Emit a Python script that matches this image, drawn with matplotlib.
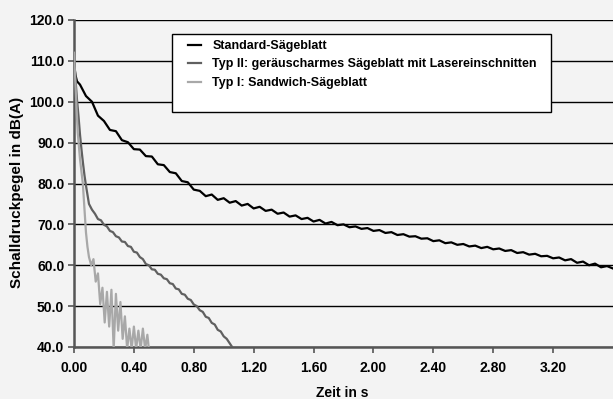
import numpy as np
import matplotlib
matplotlib.use("Agg")
import matplotlib.pyplot as plt
from matplotlib.patches import Rectangle

plt.rcParams["font.family"] = ["Liberation Sans", "DejaVu Sans"]
plt.rcParams["font.weight"] = "bold"

# Standard-Saegeblatt (black)
t_std = [0.0, 0.01, 0.02, 0.04, 0.08, 0.12, 0.16, 0.20, 0.24, 0.28, 0.32, 0.36,
         0.40, 0.44, 0.48, 0.52, 0.56, 0.60, 0.64, 0.68, 0.72, 0.76, 0.80, 0.84,
         0.88, 0.92, 0.96, 1.00, 1.04, 1.08, 1.12, 1.16, 1.20, 1.24, 1.28, 1.32,
         1.36, 1.40, 1.44, 1.48, 1.52, 1.56, 1.60, 1.64, 1.68, 1.72, 1.76, 1.80,
         1.84, 1.88, 1.92, 1.96, 2.00, 2.04, 2.08, 2.12, 2.16, 2.20, 2.24, 2.28,
         2.32, 2.36, 2.40, 2.44, 2.48, 2.52, 2.56, 2.60, 2.64, 2.68, 2.72, 2.76,
         2.80, 2.84, 2.88, 2.92, 2.96, 3.00, 3.04, 3.08, 3.12, 3.16, 3.20, 3.24,
         3.28, 3.32, 3.36, 3.40, 3.44, 3.48, 3.52, 3.56, 3.60]
db_std = [109.5, 106.5, 105.0, 104.2, 101.4, 100.0, 96.6, 95.3, 93.1, 92.8, 90.6, 90.1,
          88.4, 88.3, 86.7, 86.6, 84.7, 84.5, 82.8, 82.5, 80.6, 80.3, 78.5, 78.2,
          76.9, 77.3, 76.0, 76.4, 75.3, 75.7, 74.6, 75.0, 73.9, 74.3, 73.3, 73.6,
          72.6, 72.9, 71.9, 72.2, 71.3, 71.6, 70.7, 71.1, 70.2, 70.6, 69.8, 70.0,
          69.3, 69.5, 68.9, 69.1, 68.4, 68.6, 67.9, 68.1, 67.4, 67.6, 67.0, 67.1,
          66.5, 66.6, 65.9, 66.1, 65.4, 65.6, 65.0, 65.2, 64.6, 64.8, 64.2, 64.5,
          63.9, 64.1, 63.5, 63.7, 63.0, 63.2, 62.6, 62.8, 62.2, 62.3, 61.7, 61.9,
          61.2, 61.5, 60.6, 60.9, 60.0, 60.4, 59.5, 59.8, 59.2]

# Typ II: geraeuscharmes Saegeblatt mit Lasereinschnitten (dark grey)
t_typ2 = [0.0, 0.01, 0.02, 0.03, 0.04, 0.05, 0.06, 0.07, 0.08, 0.10, 0.12, 0.14,
          0.16, 0.18, 0.20, 0.22, 0.24, 0.26, 0.28, 0.30, 0.32, 0.34, 0.36, 0.38,
          0.40, 0.42, 0.44, 0.46, 0.48, 0.50, 0.52, 0.54, 0.56, 0.58, 0.60, 0.62,
          0.64, 0.66, 0.68, 0.70, 0.72, 0.74, 0.76, 0.78, 0.80, 0.82, 0.84, 0.86,
          0.88, 0.90, 0.92, 0.94, 0.96, 0.98, 1.00, 1.02, 1.04, 1.06]
db_typ2 = [110.5, 105.5, 100.5, 96.5, 92.0, 88.3, 85.0, 82.0, 79.5, 75.0, 73.6, 72.6,
           71.3, 71.0, 69.9, 69.5, 68.4, 68.1, 67.1, 66.8, 65.8, 65.7, 64.7, 64.5,
           63.3, 63.1, 62.0, 61.5, 60.3, 60.0, 59.0, 58.9, 57.9, 57.7, 56.8, 56.6,
           55.6, 55.4, 54.3, 54.1, 53.0, 52.8, 51.8, 51.5, 50.4, 50.0, 49.0, 48.6,
           47.4, 47.1, 45.9, 45.5, 44.2, 43.8, 42.6, 42.0, 40.9, 39.8]

# Typ I: Sandwich-Saegeblatt (light grey)
t_typ1 = [0.0, 0.01, 0.025, 0.04, 0.059, 0.07, 0.08, 0.09, 0.10, 0.115, 0.13, 0.145,
          0.16, 0.175, 0.19, 0.205, 0.22, 0.235, 0.25, 0.265, 0.28, 0.295, 0.31, 0.325,
          0.34, 0.355, 0.37, 0.385, 0.40, 0.415, 0.43, 0.445, 0.46, 0.475, 0.49, 0.50]
db_typ1 = [112.0, 104.0, 92.4, 86.0, 80.0, 73.7, 68.0, 64.5, 62.0, 60.0, 61.5, 56.0,
           58.0, 50.5, 54.5, 46.0, 53.5, 45.0, 54.0, 39.5, 53.0, 44.0, 51.0, 42.0,
           47.5, 39.5, 44.5, 39.5, 45.0, 39.5, 44.0, 39.5, 44.5, 39.5, 43.0, 39.5]

labels = ["Standard-Sägeblatt",
          "Typ II: geräuscharmes Sägeblatt mit Lasereinschnitten",
          "Typ I: Sandwich-Sägeblatt"]
colors = ["#000000", "#606060", "#a8a8a8"]

x_ticks = [0.0, 0.4, 0.8, 1.2, 1.6, 2.0, 2.4, 2.8, 3.2]
y_ticks = [40, 50, 60, 70, 80, 90, 100, 110, 120]

W, H = 613, 399
fig = plt.figure(figsize=(W / 100, H / 100), dpi=100, facecolor="#f3f3f3")
ax = fig.add_axes([74 / W, 1 - 347 / H, (W - 74) / W, (347 - 20) / H])
ax.set_facecolor("none")

for t, v, c, lab in zip([t_std, t_typ2, t_typ1], [db_std, db_typ2, db_typ1], colors, labels):
    ax.plot(t, v, color=c, lw=1.6, label=lab, zorder=3)

ax.set_xlim(0, 3.6)
ax.set_ylim(40, 120)
ax.set_xticks(x_ticks)
ax.set_xticklabels([f"{x:.2f}" for x in x_ticks], fontsize=10, fontweight="bold")
ax.set_yticks(y_ticks)
ax.set_yticklabels([f"{y:.1f}" for y in y_ticks], fontsize=10, fontweight="bold")
ax.grid(axis="y", color="black", lw=1.0, zorder=1)
ax.set_axisbelow(True)

for s in ["top", "right"]:
    ax.spines[s].set_visible(False)
for s in ["left", "bottom"]:
    ax.spines[s].set_color("#555555")
    ax.spines[s].set_linewidth(1.8)
ax.tick_params(axis="both", direction="out", length=4, width=1.2, color="#555555")
ax.tick_params(axis="x", pad=6)
ax.tick_params(axis="y", pad=3)

ax.set_xlabel("Zeit in s", fontsize=10, fontweight="bold")
ax.set_ylabel("Schalldruckpegel in dB(A)", fontsize=11, fontweight="bold")
ax.xaxis.set_label_coords((342 - 74) / (W - 74), -(386 - 347) / 327)
ax.yaxis.set_label_coords(-(74 - 24) / (W - 74), (347 - 192) / 327)

# legend box
box = Rectangle(((172 - 74) / (W - 74), (347 - 112) / 327),
                (551 - 172) / (W - 74), (112 - 34) / 327, transform=ax.transAxes,
                facecolor="white", edgecolor="black", lw=1.0, zorder=4)
ax.add_patch(box)
leg = ax.legend(loc="upper left", bbox_to_anchor=((188 - 74) / (W - 74), (347 - 40) / 327),
                frameon=False, fontsize=9, handlelength=1.0, handletextpad=0.95,
                labelspacing=0.52, borderpad=0, borderaxespad=0)
leg.set_zorder(5)
for txt in leg.get_texts():
    txt.set_fontweight("bold")

fig.savefig("out.png", dpi=100, facecolor=fig.get_facecolor())
